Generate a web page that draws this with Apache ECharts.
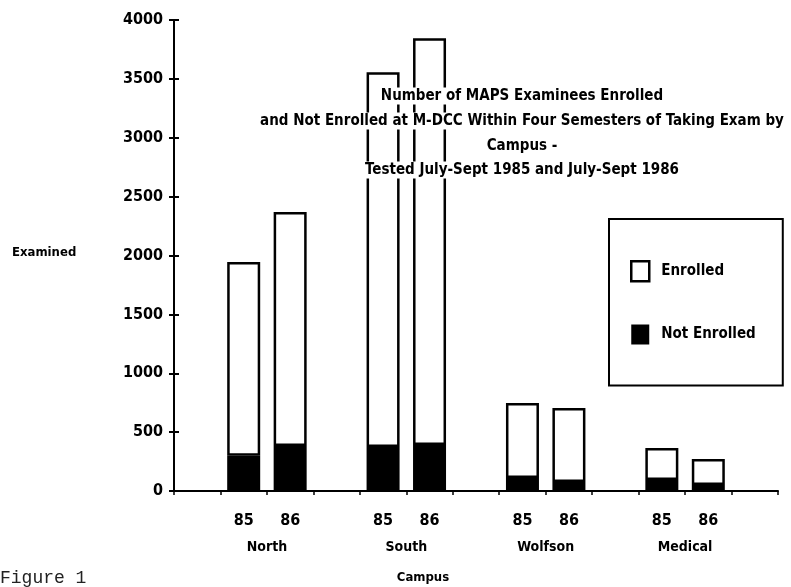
<!DOCTYPE html>
<html>
	<head>
		<meta charset="UTF-8">
		<title>MAPS Examinees by Campus</title>
		<style type="text/css">
			body{
				margin: 0;
				background: #fff;
			}
			#main{
				width: 791px;
				height: 587px;
			}
		</style>
	</head>
	<body>
		<div id="main"></div>
		<script src="https://cdn.jsdelivr.net/npm/echarts@6/dist/echarts.min.js"></script>
		<script type="text/javascript">
			// 数据
			var campuses = ['North', 'South', 'Wolfson', 'Medical'];
			var years = ['85', '86'];
			var notEnrolled = [300, 382, 373, 390, 110, 76, 93, 50];
			var enrolled = [1645, 1988, 3184, 3455, 637, 629, 272, 222];
			var yTicks = [0, 500, 1000, 1500, 2000, 2500, 3000, 3500, 4000];

			var font = 'DejaVu Sans Condensed';

			// slots: one empty slot before each campus pair, one after the last
			var slotLabels = [];
			var slotNot = [];
			var slotEnr = [];
			var k = 0;
			for (var c = 0; c < campuses.length; c++) {
				slotLabels.push(''); slotNot.push('-'); slotEnr.push('-');
				for (var y = 0; y < years.length; y++) {
					slotLabels.push(years[y]);
					slotNot.push(notEnrolled[k]);
					slotEnr.push(enrolled[k]);
					k++;
				}
			}
			slotLabels.push(''); slotNot.push('-'); slotEnr.push('-');

			// campus names sit on the boundary between the two bars of a pair
			var campusBounds = [];
			for (var i = 0; i <= slotLabels.length; i++) campusBounds.push('');
			for (var c = 0; c < campuses.length; c++) campusBounds[c * 3 + 2] = campuses[c];

			var titleLines = [
				'Number of MAPS Examinees Enrolled',
				'and Not Enrolled at M-DCC Within Four Semesters of Taking Exam by',
				'Campus -',
				'Tested July-Sept 1985 and July-Sept 1986'
			];
			var titleY = [96, 121, 146, 170];

			var myChart = echarts.init(document.getElementById('main'));

			var graphics = [];
			for (var t = 0; t < titleLines.length; t++) {
				graphics.push({
					type: 'text', x: 522, y: titleY[t], z: 100,
					style: {
						text: titleLines[t], fill: '#000', align: 'center', verticalAlign: 'middle',
						font: 'bold 15px "' + font + '"', backgroundColor: '#fff', padding: [1, 2]
					}
				});
			}
			graphics.push({
				type: 'text', x: 12, y: 253, z: 100,
				style: { text: 'Examined', fill: '#000', verticalAlign: 'middle', font: 'bold 13px "' + font + '"' }
			});
			graphics.push({
				type: 'text', x: 423, y: 578, z: 100,
				style: { text: 'Campus', fill: '#000', align: 'center', verticalAlign: 'middle', font: 'bold 13px "' + font + '"' }
			});
			graphics.push({
				type: 'text', x: 0, y: 578, z: 100,
				style: { text: 'Figure 1', fill: '#222', verticalAlign: 'middle', font: '18px "Liberation Mono"' }
			});

			var option = {
				animation: false,
				grid: { left: 174, right: 13, top: 20, bottom: 96 },
				legend: {
					orient: 'vertical',
					left: 609, top: 219,
					padding: [41, 27, 41, 21],
					itemGap: 42,
					itemWidth: 18, itemHeight: 20,
					icon: 'rect',
					borderColor: '#000', borderWidth: 2,
					textStyle: { fontFamily: font, fontWeight: 'bold', fontSize: 15, color: '#000', padding: [0, 0, 0, 7] },
					data: [
						{ name: 'Enrolled', itemStyle: { color: '#fff', borderColor: '#000', borderWidth: 2.5 } },
						{ name: 'Not Enrolled', itemStyle: { color: '#000' } }
					]
				},
				xAxis: [
					{
						type: 'category',
						data: slotLabels,
						axisLine: { lineStyle: { color: '#000', width: 2 } },
						axisTick: { show: true, length: 4, lineStyle: { color: '#000', width: 1.5 } },
						axisLabel: { interval: 0, margin: 22, color: '#000', fontFamily: font, fontWeight: 'bold', fontSize: 16 }
					},
					{
						type: 'category',
						position: 'bottom',
						boundaryGap: false,
						data: campusBounds,
						axisLine: { show: false },
						axisTick: { show: false },
						axisLabel: { interval: 0, margin: 49, color: '#000', fontFamily: font, fontWeight: 'bold', fontSize: 14 }
					}
				],
				yAxis: [
					{
						type: 'value', min: 0, max: 4000, interval: 500,
						axisLine: { show: true, lineStyle: { color: '#000', width: 2 } },
						axisTick: { show: true, length: 5, lineStyle: { color: '#000', width: 2 } },
						splitLine: { show: false },
						axisLabel: {
							margin: 11, color: '#000', fontFamily: font, fontWeight: 'bold', fontSize: 16,
							formatter: function (v) { return yTicks.indexOf(v) >= 0 ? String(v) : ''; }
						}
					},
					{
						type: 'value', min: 0, max: 4000, interval: 500, position: 'left',
						axisLine: { show: false },
						axisTick: { show: true, inside: true, length: 5, lineStyle: { color: '#000', width: 2 } },
						splitLine: { show: false },
						axisLabel: { show: false }
					}
				],
				series: [
					{
						name: 'Not Enrolled', type: 'bar', stack: 'all', barWidth: 33,
						itemStyle: { color: '#000' },
						data: slotNot
					},
					{
						name: 'Enrolled', type: 'bar', stack: 'all', barWidth: 33,
						itemStyle: { color: '#fff', borderColor: '#000', borderWidth: 2.5 },
						data: slotEnr
					}
				],
				graphic: graphics
			};

			myChart.setOption(option);
		</script>
	</body>
</html>
